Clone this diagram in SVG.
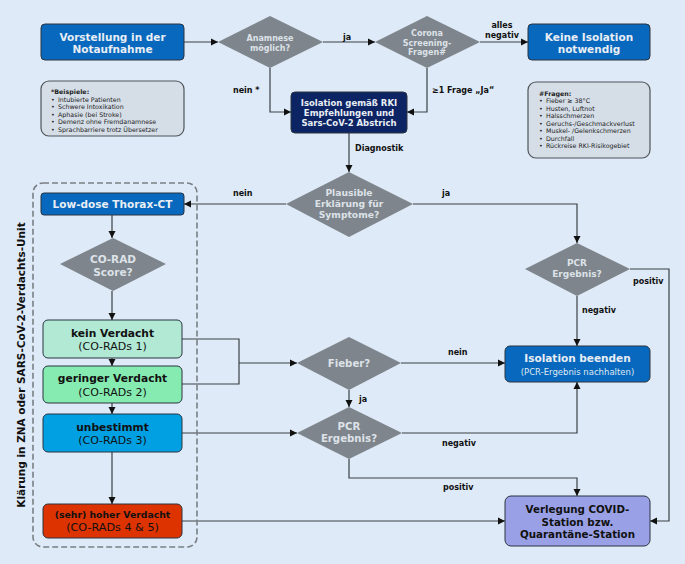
<svg xmlns="http://www.w3.org/2000/svg" width="685" height="564" viewBox="0 0 685 564">
<defs>
<marker id="ah" markerWidth="8" markerHeight="8" refX="7" refY="4" orient="auto" markerUnits="userSpaceOnUse">
<path d="M0,0.5 L7,4 L0,7.5 Z" fill="#111"/>
</marker>
<style>
text{font-family:"DejaVu Sans","Liberation Sans",sans-serif;}
.box{stroke:#2a3440;stroke-width:1;}
.dia{fill:#7e858c;}
.wt{fill:#e9eef5;font-weight:bold;text-anchor:middle;}
.dt{fill:#dde2e8;font-weight:bold;text-anchor:middle;}
.bt{fill:#111;font-weight:bold;text-anchor:middle;}
.lbl{fill:#111;font-weight:bold;font-size:8px;}
.con{fill:none;stroke:#3a3f45;stroke-width:1.2;}
.note{fill:#d5dde7;stroke:#4f5459;stroke-width:1.2;}
.nt{fill:#222;font-size:6.3px;}
</style>
</defs>
<rect width="685" height="564" fill="#deeaf7"/>

<g id="connectors">
<path class="con" d="M184,42 H218" marker-end="url(#ah)"/>
<path class="con" d="M323,42 H375" marker-end="url(#ah)"/>
<path class="con" d="M480,42 H528" marker-end="url(#ah)"/>
<path class="con" d="M270,68 V112 H291" marker-end="url(#ah)"/>
<path class="con" d="M427,68 V112 H407" marker-end="url(#ah)"/>
<path class="con" d="M349,133 V172" marker-end="url(#ah)"/>
<path class="con" d="M286,204 H184" marker-end="url(#ah)"/>
<path class="con" d="M413,204 H577 V243" marker-end="url(#ah)"/>
<path class="con" d="M112,215 V238" marker-end="url(#ah)"/>
<path class="con" d="M112,291 V320" marker-end="url(#ah)"/>
<path class="con" d="M112,358 V366" marker-end="url(#ah)"/>
<path class="con" d="M112,403 V414" marker-end="url(#ah)"/>
<path class="con" d="M112,452 V504" marker-end="url(#ah)"/>
<path class="con" d="M182,339 H239 V384 H182"/>
<path class="con" d="M239,363 H297" marker-end="url(#ah)"/>
<path class="con" d="M401,363 H505" marker-end="url(#ah)"/>
<path class="con" d="M349,390 V407" marker-end="url(#ah)"/>
<path class="con" d="M182,433 H297" marker-end="url(#ah)"/>
<path class="con" d="M402,433 H577 V382" marker-end="url(#ah)"/>
<path class="con" d="M349,459 V478 H577 V496" marker-end="url(#ah)"/>
<path class="con" d="M182,521 H505" marker-end="url(#ah)"/>
<path class="con" d="M577,296 V346" marker-end="url(#ah)"/>
<path class="con" d="M630,269 H669 V521 H650" marker-end="url(#ah)"/>
<text class="lbl" x="343" y="40">ja</text>
<text class="lbl" x="502" y="28" text-anchor="middle">alles</text>
<text class="lbl" x="502" y="37.5" text-anchor="middle">negativ</text>
<text class="lbl" x="233" y="93">nein *</text>
<text class="lbl" x="432" y="93">≥1 Frage „Ja“</text>
<text class="lbl" x="355" y="151">Diagnostik</text>
<text class="lbl" x="233" y="196">nein</text>
<text class="lbl" x="442" y="196">ja</text>
<text class="lbl" x="633" y="284">positiv</text>
<text class="lbl" x="582" y="313">negativ</text>
<text class="lbl" x="448" y="355">nein</text>
<text class="lbl" x="359" y="402">ja</text>
<text class="lbl" x="442" y="446">negativ</text>
<text class="lbl" x="443" y="490">positiv</text>
</g>

<g id="unit">
<rect x="33" y="183" width="164" height="364" rx="10" fill="none" stroke="#7a7f85" stroke-width="1.6" stroke-dasharray="6,3"/>
<text x="0" y="0" transform="translate(25,365) rotate(-90)" text-anchor="middle" font-size="10.5" font-weight="bold" fill="#111">Klärung in ZNA oder SARS-CoV-2-Verdachts-Unit</text>
</g>

<g id="vorstellung">
<rect class="box" x="41" y="24" width="143" height="36" rx="4" fill="#0868bd"/>
<text class="wt" x="112.5" y="40.5" font-size="10.5">Vorstellung in der</text>
<text class="wt" x="112.5" y="52.5" font-size="10.5">Notaufnahme</text>
</g>

<g id="anamnese">
<polygon class="dia" points="270,16 323,42 270,68 218,42"/>
<text class="dt" x="270" y="41" font-size="8">Anamnese</text>
<text class="dt" x="270" y="51" font-size="8">möglich?</text>
</g>

<g id="corona">
<polygon class="dia" points="427,16 480,42 427,68 375,42"/>
<text class="dt" x="427" y="36" font-size="8">Corona</text>
<text class="dt" x="427" y="45.5" font-size="8">Screening-</text>
<text class="dt" x="427" y="55" font-size="8">Fragen#</text>
</g>

<g id="keine">
<rect class="box" x="528" y="24" width="122" height="36" rx="4" fill="#0868bd"/>
<text class="wt" x="589" y="40.5" font-size="10.5">Keine Isolation</text>
<text class="wt" x="589" y="52.5" font-size="10.5">notwendig</text>
</g>

<g id="beispiele">
<rect class="note" x="41" y="81" width="143" height="55" rx="8"/>
<text class="nt" x="51" y="94" font-weight="bold">*Beispiele:</text>
<text class="nt" x="51" y="101.5">•</text><text class="nt" x="58" y="101.5">Intubierte Patienten</text>
<text class="nt" x="51" y="109">•</text><text class="nt" x="58" y="109">Schwere Intoxikation</text>
<text class="nt" x="51" y="116.5">•</text><text class="nt" x="58" y="116.5">Aphasie (bei Stroke)</text>
<text class="nt" x="51" y="124">•</text><text class="nt" x="58" y="124">Demenz ohne Fremdanamnese</text>
<text class="nt" x="51" y="131.5">•</text><text class="nt" x="58" y="131.5">Sprachbarriere trotz Übersetzer</text>
</g>

<g id="fragen">
<rect class="note" x="528" y="82" width="122" height="76" rx="8"/>
<text class="nt" x="539" y="96" font-weight="bold">#Fragen:</text>
<text class="nt" x="539" y="103">•</text><text class="nt" x="546" y="103">Fieber ≥ 38°C</text>
<text class="nt" x="539" y="110.5">•</text><text class="nt" x="546" y="110.5">Husten, Luftnot</text>
<text class="nt" x="539" y="118">•</text><text class="nt" x="546" y="118">Halsschmerzen</text>
<text class="nt" x="539" y="125.5">•</text><text class="nt" x="546" y="125.5">Geruchs-/Geschmackverlust</text>
<text class="nt" x="539" y="133">•</text><text class="nt" x="546" y="133">Muskel- /Gelenkschmerzen</text>
<text class="nt" x="539" y="140.5">•</text><text class="nt" x="546" y="140.5">Durchfall</text>
<text class="nt" x="539" y="148">•</text><text class="nt" x="546" y="148">Rückreise RKI-Risikogebiet</text>
</g>

<g id="isolation">
<rect class="box" x="291" y="92" width="116" height="41" rx="4" fill="#0c2463"/>
<text class="wt" x="349" y="106" font-size="8.5">Isolation gemäß RKI</text>
<text class="wt" x="349" y="116" font-size="8.5">Empfehlungen und</text>
<text class="wt" x="349" y="126" font-size="8.5">Sars-CoV-2 Abstrich</text>
</g>

<g id="plausible">
<polygon class="dia" points="349,172 413,204 349,237 286,204"/>
<text class="dt" x="349" y="196" font-size="9.2">Plausible</text>
<text class="dt" x="349" y="207" font-size="9.2">Erklärung für</text>
<text class="dt" x="349" y="218" font-size="9.2">Symptome?</text>
</g>

<g id="lowdose">
<rect class="box" x="41" y="193" width="143" height="22" rx="3" fill="#0868bd"/>
<text class="wt" x="112.5" y="208" font-size="10.5">Low-dose Thorax-CT</text>
</g>

<g id="corad">
<polygon class="dia" points="113,238 166,264 113,291 60,264"/>
<text class="dt" x="113" y="263" font-size="10.5">CO-RAD</text>
<text class="dt" x="113" y="276" font-size="10.5">Score?</text>
</g>

<g id="kein">
<rect class="box" x="43" y="320" width="139" height="38" rx="5" fill="#b2e9d5"/>
<text class="bt" x="112.5" y="337" font-size="10.7">kein Verdacht</text>
<text x="112.5" y="350" font-size="11" fill="#111" text-anchor="middle">(CO-RADs 1)</text>
</g>

<g id="geringer">
<rect class="box" x="43" y="366" width="139" height="37" rx="5" fill="#86ebb0"/>
<text class="bt" x="112.5" y="382" font-size="10.7">geringer Verdacht</text>
<text x="112.5" y="396" font-size="11" fill="#111" text-anchor="middle">(CO-RADs 2)</text>
</g>

<g id="unbestimmt">
<rect class="box" x="43" y="414" width="139" height="38" rx="5" fill="#00a0e3"/>
<text class="bt" x="112.5" y="431" font-size="10.7">unbestimmt</text>
<text x="112.5" y="444" font-size="11" fill="#111" text-anchor="middle">(CO-RADs 3)</text>
</g>

<g id="hoher">
<rect class="box" x="43" y="504" width="139" height="34" rx="5" fill="#dd3300"/>
<text class="bt" x="112.5" y="518" font-size="9.3">(sehr) hoher Verdacht</text>
<text x="112.5" y="531" font-size="11.2" fill="#111" text-anchor="middle">(CO-RADs 4 &amp; 5)</text>
</g>

<g id="pcr1">
<polygon class="dia" points="577,243 630,269 577,296 525,269"/>
<text class="dt" x="577" y="266" font-size="9">PCR</text>
<text class="dt" x="577" y="277" font-size="9">Ergebnis?</text>
</g>

<g id="fieber">
<polygon class="dia" points="349,337 401,363 349,390 297,363"/>
<text class="dt" x="349" y="367" font-size="10.2">Fieber?</text>
</g>

<g id="pcr2">
<polygon class="dia" points="349,407 402,433 349,459 297,433"/>
<text class="dt" x="349" y="430" font-size="10.2">PCR</text>
<text class="dt" x="349" y="442" font-size="10.2">Ergebnis?</text>
</g>

<g id="beenden">
<rect class="box" x="505" y="346" width="145" height="36" rx="5" fill="#0868bd"/>
<text class="wt" x="577.5" y="362" font-size="10.5">Isolation beenden</text>
<text x="577.5" y="375" font-size="8.5" fill="#dfe8f3" text-anchor="middle">(PCR-Ergebnis nachhalten)</text>
</g>

<g id="verlegung">
<rect class="box" x="505" y="496" width="145" height="50" rx="6" fill="#9aa0e6"/>
<text class="bt" x="577.5" y="513" font-size="10.3">Verlegung COVID-</text>
<text class="bt" x="577.5" y="525.5" font-size="10.3">Station bzw.</text>
<text class="bt" x="577.5" y="538" font-size="10.3">Quarantäne-Station</text>
</g>
</svg>
